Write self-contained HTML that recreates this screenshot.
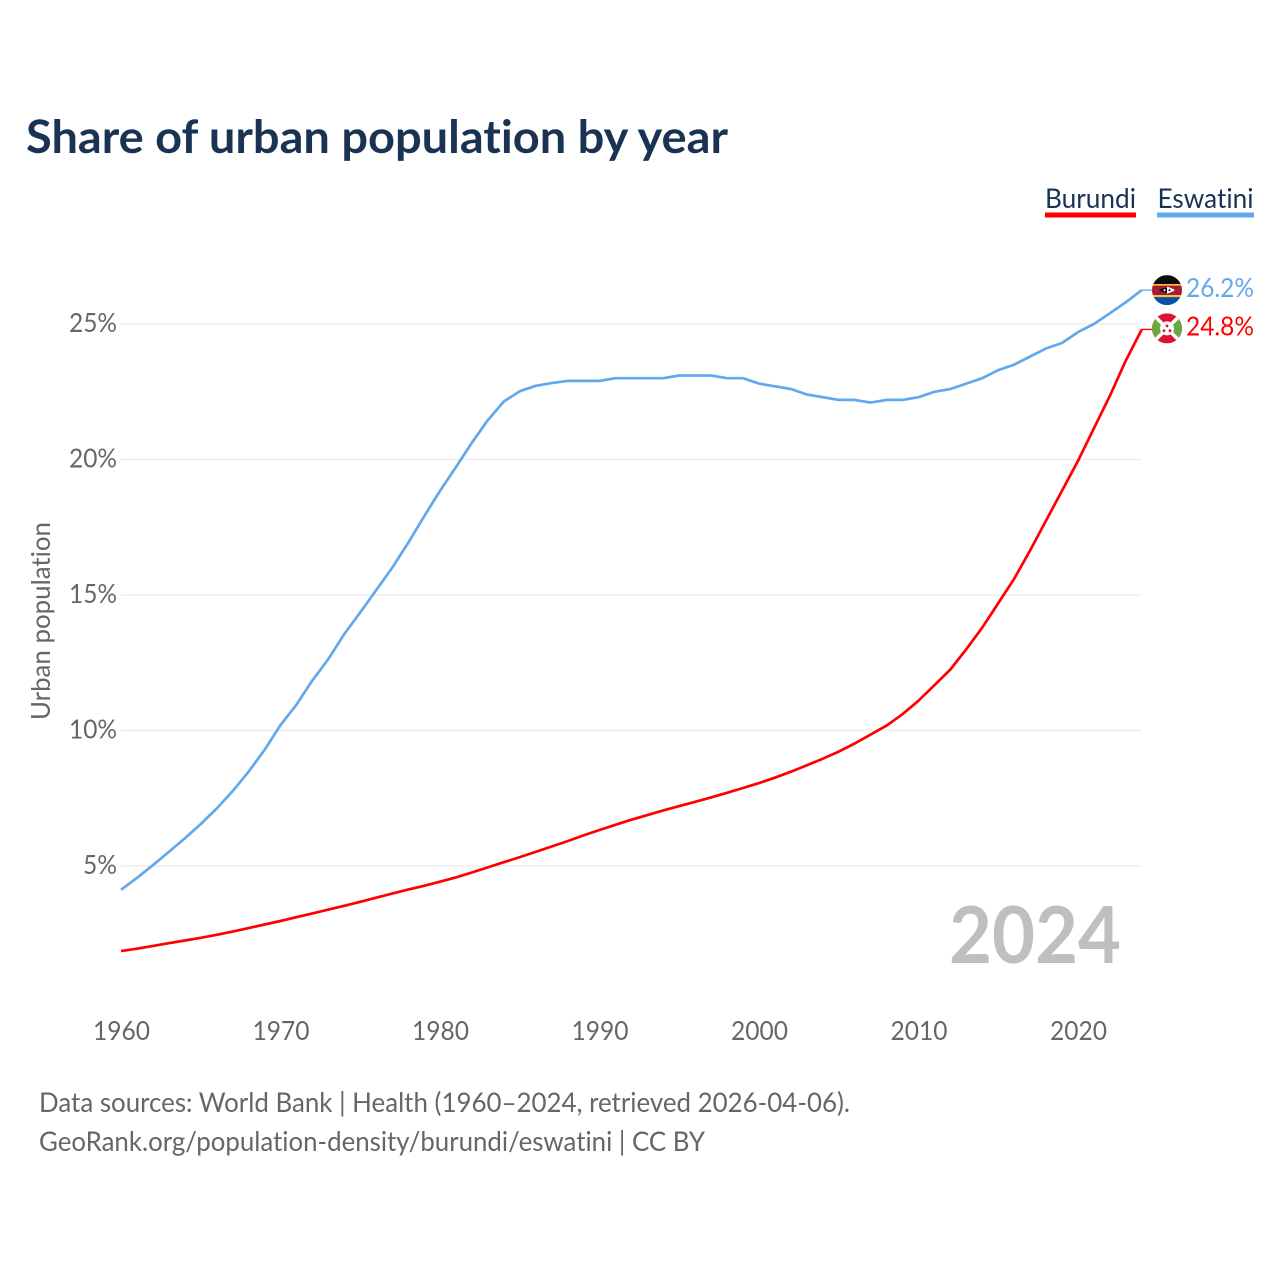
<!DOCTYPE html>
<html lang="en">
<head>
<meta charset="utf-8">
<title>Share of urban population by year</title>
<style>
html,body{margin:0;padding:0;background:#fff;}
svg{display:block;font-family:"Lato","Carlito","Liberation Sans",sans-serif;font-variant-ligatures:none;}
</style>
</head>
<body>
<svg id="chart" xmlns="http://www.w3.org/2000/svg" width="1280" height="1280" viewBox="0 0 1280 1280">
  <defs>
    <clipPath id="flag-clip"><circle cx="0" cy="0" r="15"/></clipPath>
  </defs>
  <rect x="0" y="0" width="1280" height="1280" fill="#fff"/>
  <text x="26" y="153" font-size="46" font-weight="700" fill="#1a3353" textLength="702" lengthAdjust="spacingAndGlyphs">Share of urban population by year</text>

  <g>
    <text x="1045" y="208" font-size="27.500" fill="#1a3353" textLength="91" lengthAdjust="spacingAndGlyphs">Burundi</text>
    <rect x="1045" y="212.500" width="91" height="5" fill="#ff0000"/>
  </g>
  <g>
    <text x="1157.500" y="208" font-size="27.500" fill="#1a3353" textLength="96" lengthAdjust="spacingAndGlyphs">Eswatini</text>
    <rect x="1157" y="212.500" width="97" height="5" fill="#62a8ec"/>
  </g>

  <text transform="translate(50,621) rotate(-90)" text-anchor="middle" font-size="26.500" fill="#666" textLength="198" lengthAdjust="spacingAndGlyphs">Urban population</text>

  <g id="grid"></g>
  <g id="y-ticks"></g>
  <g id="x-ticks"></g>
  <g id="series"></g>

  <text x="949" y="963" font-size="79" font-weight="700" fill="#bfbfbf" textLength="172" lengthAdjust="spacingAndGlyphs">2024</text>

  <g id="flag-eswatini">
    <g clip-path="url(#flag-clip)">
      <rect x="-15" y="-15" width="30" height="9" fill="#0c0c0c"/>
      <rect x="-15" y="-6" width="30" height="1.500" fill="#f2c230"/>
      <rect x="-15" y="-4.500" width="30" height="9.500" fill="#b0152c"/>
      <rect x="-15" y="5" width="30" height="2" fill="#f2c230"/>
      <rect x="-15" y="7" width="30" height="8" fill="#0b4fa8"/>
      <path d="M-8 0 Q0 -5 8 0 Q0 5 -8 0Z" fill="#0c0c0c"/>
      <path d="M0 -3.500 Q5 -2 8 0 Q5 2 0 3.500Z" fill="#fff"/>
      <circle cx="-2.500" cy="0" r="1" fill="#fff"/>
      <circle cx="2.500" cy="0" r="1" fill="#0c0c0c"/>
      <circle cx="-11" cy="0" r="1" fill="#2d5fb0"/>
      <circle cx="11" cy="0" r="1" fill="#2d5fb0"/>
    </g>
  </g>
  <g id="flag-burundi">
    <g clip-path="url(#flag-clip)">
      <rect x="-15" y="-15" width="30" height="30" fill="#dc1133"/>
      <path d="M-15 -15 L0 0 L-15 15Z" fill="#6aa842"/>
      <path d="M15 -15 L0 0 L15 15Z" fill="#6aa842"/>
      <path d="M-15 -15 L15 15 M15 -15 L-15 15" stroke="#fff" stroke-width="3.500" fill="none"/>
      <circle cx="0" cy="0" r="7" fill="#fff"/>
      <circle cx="0" cy="-2.500" r="1.400" fill="#dc1133"/>
      <circle cx="-3" cy="2.300" r="1.400" fill="#dc1133"/>
      <circle cx="3" cy="2.300" r="1.400" fill="#dc1133"/>
    </g>
  </g>

  <text id="value-eswatini" x="1186" font-size="26.500" fill="#62a8ec" textLength="68" lengthAdjust="spacingAndGlyphs"></text>
  <text id="value-burundi" x="1186" font-size="26.500" fill="#ff0000" textLength="68" lengthAdjust="spacingAndGlyphs"></text>

  <text x="39" y="1112" font-size="27.500" fill="#666" textLength="811" lengthAdjust="spacingAndGlyphs">Data sources: World Bank | Health (1960–2024, retrieved 2026-04-06).</text>
  <text x="39" y="1151" font-size="27.500" fill="#666" textLength="666" lengthAdjust="spacingAndGlyphs">GeoRank.org/population-density/burundi/eswatini | CC BY</text>
</svg>
<script>
const startYear = 1960;
const xTickYears = [1960, 1970, 1980, 1990, 2000, 2010, 2020];
const yTickValues = [5, 10, 15, 20, 25];
const burundiValues = [
  1.86, 1.95, 2.05, 2.15, 2.25, 2.35, 2.46, 2.58, 2.71, 2.84,
  2.97, 3.11, 3.25, 3.39, 3.53, 3.68, 3.83, 3.98, 4.13, 4.27,
  4.42, 4.58, 4.76, 4.95, 5.14, 5.33, 5.52, 5.72, 5.92, 6.13,
  6.33, 6.52, 6.71, 6.88, 7.05, 7.21, 7.37, 7.53, 7.70, 7.88,
  8.06, 8.26, 8.48, 8.72, 8.96, 9.22, 9.52, 9.85, 10.18, 10.60,
  11.10, 11.67, 12.25, 13.00, 13.80, 14.70, 15.60, 16.65, 17.75, 18.85,
  19.95, 21.15, 22.35, 23.65, 24.80
];
const eswatiniValues = [
  4.12, 4.56, 5.03, 5.52, 6.02, 6.55, 7.12, 7.76, 8.48, 9.28,
  10.20, 10.95, 11.85, 12.64, 13.56, 14.36, 15.18, 16.00, 16.92, 17.90,
  18.84, 19.72, 20.62, 21.45, 22.14, 22.52, 22.72, 22.82, 22.90, 22.90,
  22.90, 23.00, 23.00, 23.00, 23.00, 23.10, 23.10, 23.10, 23.00, 23.00,
  22.80, 22.70, 22.60, 22.40, 22.30, 22.20, 22.20, 22.10, 22.20, 22.20,
  22.30, 22.50, 22.60, 22.80, 23.00, 23.30, 23.50, 23.80, 24.10, 24.30,
  24.70, 25.00, 25.40, 25.80, 26.25
];
const burundiLabel = "24.8%";
const eswatiniLabel = "26.2%";

const NS = "http://www.w3.org/2000/svg";
function xScale(year) { return 121 + (year - 1960) * 15.95; }
function yScale(value) { return 866 - (value - 5) * 27.1; }

const gridGroup = document.getElementById("grid");
const yTickGroup = document.getElementById("y-ticks");
yTickValues.forEach(function (v) {
  const line = document.createElementNS(NS, "line");
  
  
  line.setAttribute("x1", xScale(1960));
  line.setAttribute("x2", xScale(2024));
  line.setAttribute("y1", yScale(v));
  line.setAttribute("y2", yScale(v));
  line.setAttribute("stroke", "#ededed");
  line.setAttribute("stroke-width", "1.500");
  gridGroup.appendChild(line);

  const label = document.createElementNS(NS, "text");
  
  
  label.setAttribute("x", 117);
  label.setAttribute("y", yScale(v) + 8);
  label.setAttribute("text-anchor", "end");
  label.setAttribute("font-size", "26.500");
  label.setAttribute("fill", "#666");
  label.setAttribute("textLength", v < 10 ? 34 : 48);
  label.setAttribute("lengthAdjust", "spacingAndGlyphs");
  label.textContent = v + "%";
  yTickGroup.appendChild(label);
});

const xTickGroup = document.getElementById("x-ticks");
xTickYears.forEach(function (year) {
  const label = document.createElementNS(NS, "text");
  
  
  label.setAttribute("x", xScale(year) + 0.5);
  label.setAttribute("y", 1040);
  label.setAttribute("text-anchor", "middle");
  label.setAttribute("font-size", "26.500");
  label.setAttribute("fill", "#666");
  label.setAttribute("textLength", 57);
  label.setAttribute("lengthAdjust", "spacingAndGlyphs");
  label.textContent = year;
  xTickGroup.appendChild(label);
});

function linePath(values) {
  const pts = values.map(function (v, i) {
    return xScale(startYear + i).toFixed(1) + "," + yScale(v).toFixed(1);
  });
  return "M" + pts.join("L");
}
function tailPath(values) {
  const n = values.length - 1;
  const y = yScale(values[n]).toFixed(1);
  return "M" + xScale(startYear + n).toFixed(1) + "," + y + "L" + (xScale(startYear + n) + 11).toFixed(1) + "," + y;
}

const seriesGroup = document.getElementById("series");

const eswatiniLine = document.createElementNS(NS, "path");


eswatiniLine.setAttribute("d", linePath(eswatiniValues));
eswatiniLine.setAttribute("fill", "none");
eswatiniLine.setAttribute("stroke", "#62a8ec");
eswatiniLine.setAttribute("stroke-width", "2.700");
eswatiniLine.setAttribute("stroke-linejoin", "round");
seriesGroup.appendChild(eswatiniLine);

const eswatiniTail = document.createElementNS(NS, "path");


eswatiniTail.setAttribute("d", tailPath(eswatiniValues));
eswatiniTail.setAttribute("fill", "none");
eswatiniTail.setAttribute("stroke", "#62a8ec");
eswatiniTail.setAttribute("stroke-width", "1.300");
seriesGroup.appendChild(eswatiniTail);

const burundiLine = document.createElementNS(NS, "path");


burundiLine.setAttribute("d", linePath(burundiValues));
burundiLine.setAttribute("fill", "none");
burundiLine.setAttribute("stroke", "#ff0000");
burundiLine.setAttribute("stroke-width", "2.700");
burundiLine.setAttribute("stroke-linejoin", "round");
seriesGroup.appendChild(burundiLine);

const burundiTail = document.createElementNS(NS, "path");


burundiTail.setAttribute("d", tailPath(burundiValues));
burundiTail.setAttribute("fill", "none");
burundiTail.setAttribute("stroke", "#ff0000");
burundiTail.setAttribute("stroke-width", "1.300");
seriesGroup.appendChild(burundiTail);

const eswatiniEndY = yScale(eswatiniValues[eswatiniValues.length - 1]);
const burundiEndY = yScale(burundiValues[burundiValues.length - 1]);
document.getElementById("flag-eswatini").setAttribute("transform", "translate(1167," + eswatiniEndY.toFixed(1) + ")");
document.getElementById("flag-burundi").setAttribute("transform", "translate(1167," + (burundiEndY - 1).toFixed(1) + ")");
const eswatiniText = document.getElementById("value-eswatini");
eswatiniText.setAttribute("y", (eswatiniEndY + 7).toFixed(1));
eswatiniText.textContent = eswatiniLabel;
const burundiText = document.getElementById("value-burundi");
burundiText.setAttribute("y", (burundiEndY + 6).toFixed(1));
burundiText.textContent = burundiLabel;
</script>
</body>
</html>
